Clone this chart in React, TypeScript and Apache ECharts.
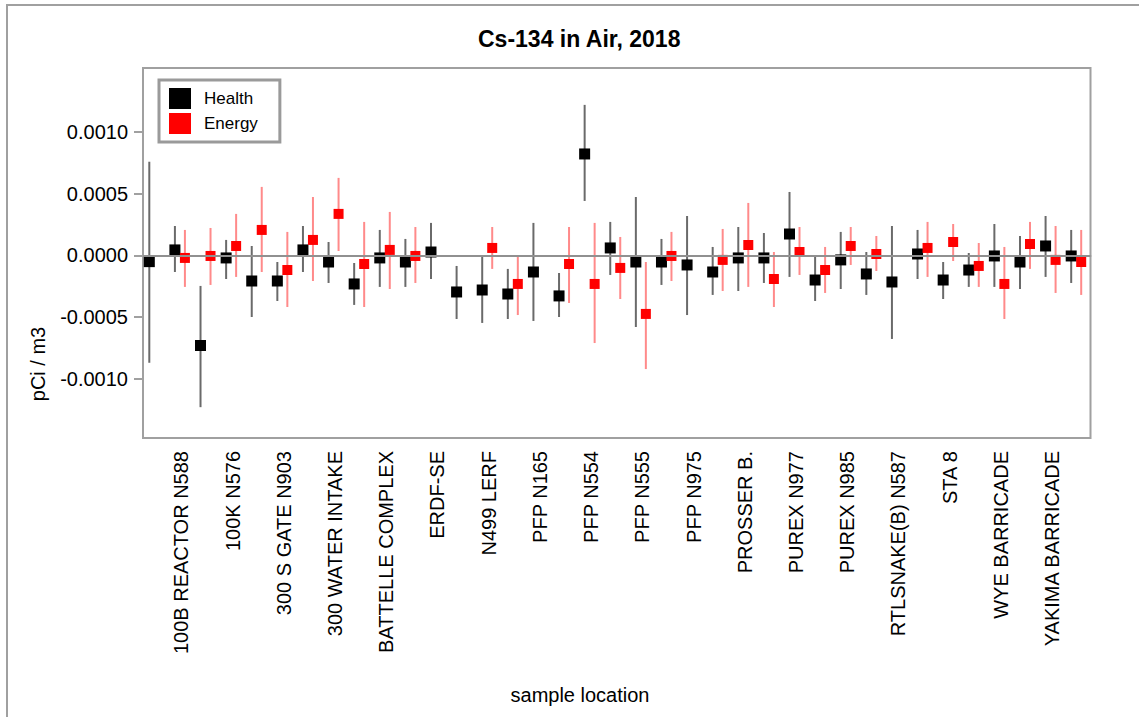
import React, { useEffect, useRef } from "react";
import * as echarts from "echarts";

// Labelled sample locations (every other category carries a visible label)
const categoryLabels = [
  "100B REACTOR N588",
  "100K N576",
  "300 S GATE N903",
  "300 WATER INTAKE",
  "BATTELLE COMPLEX",
  "ERDF-SE",
  "N499 LERF",
  "PFP N165",
  "PFP N554",
  "PFP N555",
  "PFP N975",
  "PROSSER B.",
  "PUREX N977",
  "PUREX N985",
  "RTLSNAKE(B) N587",
  "STA 8",
  "WYE BARRICADE",
  "YAKIMA BARRICADE",
];

// 37 sample locations; unlabeled ones are blank
const categories: string[] = [];
for (let i = 0; i < 37; i++) categories.push(i % 2 === 1 ? categoryLabels[(i - 1) / 2] : "");

// Health (black) values and error bar limits, pCi/m3
const healthValue = [
  -0.00005, 0.000045, -0.00073, -0.00002, -0.000207, -0.000207, 0.000045, -0.000053, -0.000231, -0.00002,
  -0.000053, 0.000028, -0.000296, -0.00028, -0.000312, -0.000134, -0.000328, 0.000823, 0.000061, -0.000053,
  -0.000053, -0.000077, -0.000134, -0.00002, -0.00002, 0.000174, -0.000199, -0.000036, -0.00015, -0.000215,
  0.000012, -0.000199, -0.000118, -0.000004, -0.000053, 0.000077, -0.000004,
];
const healthLow = [
  -0.00087, -0.000134, -0.00123, -0.000191, -0.000499, -0.000369, -0.000134, -0.000223, -0.000401, -0.000255,
  -0.000255, -0.000191, -0.000515, -0.000547, -0.000515, -0.000531, -0.000499, 0.000442, -0.000158, -0.00058,
  -0.000239, -0.000483, -0.00032, -0.000288, -0.000223, -0.000174, -0.000369, -0.000272, -0.00032, -0.000677,
  -0.000191, -0.000353, -0.000255, -0.000255, -0.000272, -0.000174, -0.000223,
];
const healthHigh = [
  0.00076, 0.000239, -0.000247, 0.000126, 0.000077, -0.000053, 0.000239, 0.000109, -0.000061, 0.000207,
  0.000134, 0.000264, -0.000085, -0.000012, -0.000109, 0.000264, -0.000142, 0.001221, 0.000272, 0.000474,
  0.000134, 0.00032, 0.000069, 0.000231, 0.000182, 0.000515, -0.000012, 0.000191, 0.000028, 0.000239,
  0.000207, -0.000053, 0.00002, 0.000255, 0.000158, 0.00032, 0.000207,
];

// Energy (red) values and error bar limits, pCi/m3 (null = no sample)
const energyValue = [
  null, -0.00002, -0.000004, 0.000077, 0.000207, -0.000118, 0.000126, 0.000337, -0.000069, 0.000045,
  -0.000004, null, null, 0.000061, -0.000231, null, -0.000069, -0.000231, -0.000101, -0.000474,
  -0.000004, null, -0.000036, 0.000085, -0.000191, 0.000028, -0.000118, 0.000077, 0.000012, null,
  0.000061, 0.000109, -0.000085, -0.000231, 0.000093, -0.000036, -0.000053,
];
const energyLow = [
  null, -0.000255, -0.000239, -0.000174, -0.000134, -0.000418, -0.000207, 0.000036, -0.000418, -0.000272,
  -0.000223, null, null, -0.000109, -0.000483, null, -0.000385, -0.00071, -0.000353, -0.000921,
  -0.000207, null, -0.000288, -0.000255, -0.000418, -0.000158, -0.000304, -0.000077, -0.000126, null,
  -0.000174, -0.000045, -0.000255, -0.000515, -0.000109, -0.000304, -0.00032,
];
const energyHigh = [
  null, 0.000207, 0.000223, 0.000337, 0.000556, 0.000191, 0.000474, 0.000629, 0.000272, 0.000353,
  0.000231, null, null, 0.000231, 0.000004, null, 0.000231, 0.000264, 0.00015, -0.000053,
  0.000191, null, 0.000215, 0.000426, 0.000028, 0.000231, 0.000069, 0.000231, 0.000158, null,
  0.000272, 0.000255, 0.000101, 0.000069, 0.000272, 0.000239, 0.000207,
];

const yTicks = [-0.001, -0.0005, 0, 0.0005, 0.001];

const FONT = "'Liberation Sans', Arial, sans-serif";

function buildData(v: (number | null)[], lo: (number | null)[], hi: (number | null)[]) {
  const out: number[][] = [];
  v.forEach((val, i) => {
    if (val !== null && lo[i] !== null && hi[i] !== null) out.push([i, val, lo[i] as number, hi[i] as number]);
  });
  return out;
}

function makeRender(offset: number, size: number, barColor: string, color: string) {
  return (_params: any, api: any) => {
    const x = api.value(0);
    const c = api.coord([x, api.value(1)]);
    const lo = api.coord([x, api.value(2)]);
    const hi = api.coord([x, api.value(3)]);
    const px = c[0] + offset;
    return {
      type: "group",
      children: [
        {
          type: "line",
          shape: { x1: px, y1: hi[1], x2: px, y2: lo[1] },
          style: { stroke: barColor, lineWidth: 2 },
        },
        {
          type: "rect",
          shape: { x: px - size / 2, y: c[1] - size / 2, width: size, height: size },
          style: { fill: color },
        },
      ],
    };
  };
}

export default function App() {
  const ref = useRef<HTMLDivElement>(null);
  useEffect(() => {
    if (!ref.current) return;
    const chart = echarts.init(ref.current, null, { renderer: "svg" });
    const showOdd = (i: number) => i % 2 === 1;
    chart.setOption({
      animation: false,
      backgroundColor: "#ffffff",
      textStyle: { fontFamily: FONT },
      title: {
        text: "Cs-134 in Air, 2018",
        left: 473,
        top: 22,
        textStyle: { fontFamily: FONT, fontSize: 23, fontWeight: "bold", color: "#000" },
      },
      legend: {
        orient: "vertical",
        left: 159,
        top: 80,
        icon: "rect",
        itemWidth: 22,
        itemHeight: 21,
        itemGap: 4,
        padding: [8, 22, 8, 10],
        borderColor: "#9a9a9a",
        borderWidth: 3,
        data: ["Health", "Energy"],
        textStyle: { fontFamily: FONT, fontSize: 17, color: "#000", padding: [0, 0, 0, 8] },
      },
      grid: {
        left: 143,
        right: 48.5,
        top: 68,
        bottom: 279,
        show: true,
        borderColor: "#a0a0a0",
        borderWidth: 2,
      },
      xAxis: {
        type: "category",
        data: categories,
        boundaryGap: true,
        axisLine: { lineStyle: { color: "#a0a0a0", width: 2 } },
        axisTick: {
          alignWithLabel: true,
          interval: showOdd,
          length: 8,
          lineStyle: { color: "#a0a0a0", width: 2 },
        },
        axisLabel: {
          rotate: 90,
          interval: showOdd,
          fontSize: 20,
          margin: 13,
          color: "#000",
          fontFamily: FONT,
        },
        splitLine: { show: false },
      },
      yAxis: {
        type: "value",
        min: -0.00148,
        max: 0.00152,
        axisLine: { show: true, lineStyle: { color: "#a0a0a0", width: 2 } },
        axisTick: { show: true, length: 9, customValues: yTicks, lineStyle: { color: "#a0a0a0", width: 2 } },
        axisLabel: {
          customValues: yTicks,
          fontSize: 20,
          margin: 15,
          color: "#000",
          fontFamily: FONT,
          formatter: (v: number) => v.toFixed(4),
        },
        splitLine: { show: false },
      },
      graphic: [
        {
          type: "rect",
          shape: { x: 7, y: 5, width: 1300, height: 900 },
          style: { fill: "none", stroke: "#a0a0a0", lineWidth: 2 },
          silent: true,
        },
        {
          type: "text",
          x: 38,
          y: 364,
          rotation: Math.PI / 2,
          style: {
            text: "pCi / m3",
            fontFamily: FONT,
            fontSize: 20,
            fill: "#000",
            textAlign: "center",
            textVerticalAlign: "middle",
          },
        },
        {
          type: "text",
          x: 580,
          y: 695,
          style: {
            text: "sample location",
            fontFamily: FONT,
            fontSize: 20,
            fill: "#000",
            textAlign: "center",
            textVerticalAlign: "middle",
          },
        },
      ],
      series: [
        {
          type: "line",
          name: "zero",
          data: [],
          silent: true,
          markLine: {
            silent: true,
            symbol: "none",
            label: { show: false },
            lineStyle: { color: "#909090", width: 2, type: "solid" },
            data: [{ yAxis: 0 }],
          },
        },
        {
          type: "custom",
          name: "Health",
          data: buildData(healthValue, healthLow, healthHigh),
          encode: { x: 0, y: [1, 2, 3] },
          itemStyle: { color: "#000000" },
          renderItem: makeRender(-6.5, 11, "#6a6a6a", "#000000"),
          z: 3,
        },
        {
          type: "custom",
          name: "Energy",
          data: buildData(energyValue, energyLow, energyHigh),
          encode: { x: 0, y: [1, 2, 3] },
          itemStyle: { color: "#ff0000" },
          renderItem: makeRender(3.5, 10, "#ff8a8a", "#ff0000"),
          z: 4,
        },
      ],
    });
    return () => chart.dispose();
  }, []);
  return (
    <div
      ref={ref}
      style={{ position: "absolute", left: 0, top: 0, width: 1139, height: 717, background: "#fff" }}
    />
  );
}
